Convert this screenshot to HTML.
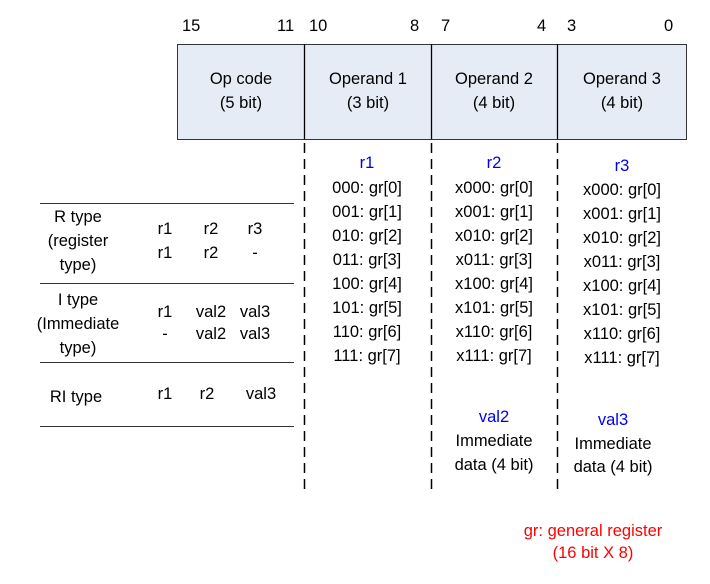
<!DOCTYPE html>
<html><head><meta charset="utf-8"><style>body{margin:0;background:#fff}svg{display:block}text{font-family:"Liberation Sans",Arial,sans-serif;font-size:16.5px;fill:#000}</style></head><body>
<svg width="710" height="584" viewBox="0 0 710 584" xmlns="http://www.w3.org/2000/svg">
<g text-anchor="start" dominant-baseline="central">
<text x="182" y="26">15</text><text x="277" y="26">11</text>
<text x="309" y="26">10</text><text x="410" y="26">8</text>
<text x="441" y="26">7</text><text x="537" y="26">4</text>
<text x="567" y="26">3</text><text x="664" y="26">0</text>
</g>
<rect x="177.5" y="44.5" width="509" height="95" fill="#e6ecf6" stroke="#333" stroke-width="1"/>
<g stroke="#000" stroke-width="1.3">
<line x1="304.5" y1="44" x2="304.5" y2="139"/><line x1="431.5" y1="44" x2="431.5" y2="139"/><line x1="557.5" y1="44" x2="557.5" y2="139"/>
</g>
<g stroke="#000" stroke-width="1.5" stroke-dasharray="10,6">
<line x1="304.5" y1="143" x2="304.5" y2="492"/><line x1="431.5" y1="143" x2="431.5" y2="492"/><line x1="557.5" y1="143" x2="557.5" y2="492"/>
</g>
<g text-anchor="middle" dominant-baseline="central">
<text x="241" y="79">Op code</text><text x="241" y="103">(5 bit)</text>
<text x="368" y="79">Operand 1</text><text x="368" y="103">(3 bit)</text>
<text x="494" y="79">Operand 2</text><text x="494" y="103">(4 bit)</text>
<text x="622" y="79">Operand 3</text><text x="622" y="103">(4 bit)</text>
<text x="367" y="163" style="fill:#0000ee">r1</text>
<text x="494" y="163" style="fill:#0000ee">r2</text>
<text x="622" y="166" style="fill:#0000ee">r3</text>
<text x="367" y="188">000: gr[0]</text><text x="367" y="212">001: gr[1]</text><text x="367" y="236">010: gr[2]</text><text x="367" y="260">011: gr[3]</text><text x="367" y="284">100: gr[4]</text><text x="367" y="308">101: gr[5]</text><text x="367" y="332">110: gr[6]</text><text x="367" y="356">111: gr[7]</text>
<text x="494" y="188">x000: gr[0]</text><text x="494" y="212">x001: gr[1]</text><text x="494" y="236">x010: gr[2]</text><text x="494" y="260">x011: gr[3]</text><text x="494" y="284">x100: gr[4]</text><text x="494" y="308">x101: gr[5]</text><text x="494" y="332">x110: gr[6]</text><text x="494" y="356">x111: gr[7]</text>
<text x="622" y="190">x000: gr[0]</text><text x="622" y="214">x001: gr[1]</text><text x="622" y="238">x010: gr[2]</text><text x="622" y="262">x011: gr[3]</text><text x="622" y="286">x100: gr[4]</text><text x="622" y="310">x101: gr[5]</text><text x="622" y="334">x110: gr[6]</text><text x="622" y="358">x111: gr[7]</text>
<text x="494" y="417" style="fill:#0000ee">val2</text><text x="494" y="441">Immediate</text><text x="494" y="465">data (4 bit)</text>
<text x="613" y="420" style="fill:#0000ee">val3</text><text x="613" y="444">Immediate</text><text x="613" y="467">data (4 bit)</text>
<text x="78" y="217">R type</text><text x="78" y="241">(register</text><text x="78" y="265">type)</text>
<text x="78" y="300">I type</text><text x="78" y="324">(Immediate</text><text x="78" y="348">type)</text>
<text x="76" y="397">RI type</text>
<text x="165" y="229">r1</text><text x="211" y="229">r2</text><text x="255" y="229">r3</text>
<text x="165" y="253">r1</text><text x="211" y="253">r2</text><text x="255" y="253">-</text>
<text x="165" y="312">r1</text><text x="211" y="312">val2</text><text x="255" y="312">val3</text>
<text x="165" y="334">-</text><text x="211" y="334">val2</text><text x="255" y="334">val3</text>
<text x="165" y="394">r1</text><text x="207" y="394">r2</text><text x="261" y="394">val3</text>
<text x="593" y="531" style="fill:#ff0000">gr: general register</text>
<text x="593" y="553" style="fill:#ff0000">(16 bit X 8)</text>
</g>
<g stroke="#333" stroke-width="1">
<line x1="40" y1="203.5" x2="294" y2="203.5"/><line x1="40" y1="283.5" x2="294" y2="283.5"/><line x1="40" y1="362.5" x2="294" y2="362.5"/><line x1="40" y1="426.5" x2="294" y2="426.5"/>
</g>
</svg>
</body></html>
